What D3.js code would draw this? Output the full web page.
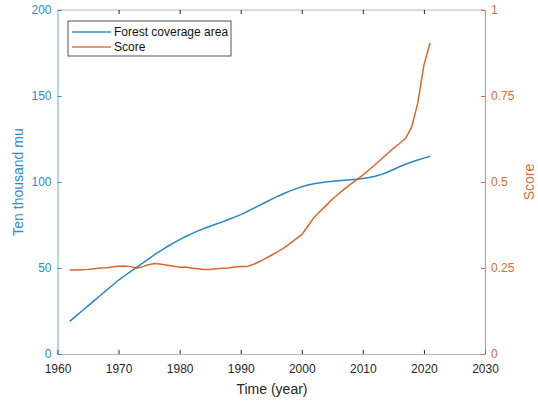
<!DOCTYPE html>
<html>
<head>
<meta charset="utf-8">
<script src="https://cdn.jsdelivr.net/npm/d3@7"></script>
<style>
body { margin: 0; background: #fff; }
text { font-family: "Liberation Sans", Arial, sans-serif; }
</style>
</head>
<body>
<div id="chart"></div>
<script>
// values
var years = d3.range(1962, 2022);
var forestArea = [19, 22, 25, 28, 31, 34, 37, 40, 43, 45.5,
    48, 50.5, 53, 55.5, 58, 60.3, 62.5, 64.6, 66.5, 68.3,
    70, 71.6, 73, 74.3, 75.6, 76.8, 78.2, 79.6, 81, 82.7,
    84.5, 86.3, 88.1, 89.9, 91.6, 93.2, 94.7, 96, 97.2, 98.2,
    99, 99.6, 100, 100.4, 100.7, 101, 101.3, 101.6, 102, 102.6,
    103.3, 104.3, 105.7, 107.3, 108.9, 110.3, 111.6, 112.8, 113.9, 115];
var score = [0.244, 0.244, 0.245, 0.246, 0.248, 0.25, 0.251, 0.253, 0.255, 0.256,
    0.254, 0.249, 0.254, 0.26, 0.263, 0.261, 0.258, 0.255, 0.252, 0.253,
    0.249, 0.248, 0.246, 0.246, 0.248, 0.249, 0.25, 0.253, 0.254, 0.254,
    0.26, 0.268, 0.277, 0.287, 0.297, 0.308, 0.32, 0.334, 0.347, 0.372,
    0.397, 0.415, 0.432, 0.45, 0.465, 0.48, 0.494, 0.507, 0.52, 0.535,
    0.55, 0.566, 0.582, 0.598, 0.612, 0.627, 0.66, 0.73, 0.84, 0.904];
var xTicks = [1960, 1970, 1980, 1990, 2000, 2010, 2020, 2030];
var leftTicks = [0, 50, 100, 150, 200];
var rightTicks = [0, 0.25, 0.5, 0.75, 1];
var seriesNames = ["Forest coverage area", "Score"];

var width = 538, height = 403;
var margin = {left: 57.5, right: 53, top: 10, bottom: 49};
var blue = "#0072BD", orange = "#D95319", grey = "#262626";
var blueTxt = "#2F8AD0", orangeTxt = "#E06A34";

var svg = d3.select("#chart").append("svg")
    .attr("width", width)
    .attr("height", height);

var x = d3.scaleLinear().domain([1960, 2030])
    .range([margin.left, width - margin.right]);
var yL = d3.scaleLinear().domain([0, 200])
    .range([height - margin.bottom, margin.top]);
var yR = d3.scaleLinear().domain([0, 1])
    .range([height - margin.bottom, margin.top]);

var bottom = height - margin.bottom;

// top box line
svg.append("line")
    .attr("x1", x(1960)).attr("x2", x(2030))
    .attr("y1", margin.top).attr("y2", margin.top)
    .attr("stroke", grey).attr("stroke-opacity", 0.35);

// x axis
var gx = svg.append("g")
    .attr("transform", "translate(0," + bottom + ")")
    .call(d3.axisBottom(x).tickValues(xTicks).tickFormat(d3.format("d"))
        .tickSizeInner(-4).tickSizeOuter(0).tickPadding(10));
gx.select(".domain").attr("stroke", grey).attr("stroke-opacity", 0.35);
gx.selectAll(".tick line").attr("stroke", grey);
gx.selectAll("text").attr("fill", grey).attr("font-size", 12);

// top ticks
svg.append("g")
    .attr("transform", "translate(0," + margin.top + ")")
    .call(d3.axisTop(x).tickValues(xTicks.slice(1, -1)).tickFormat("")
        .tickSizeInner(-4).tickSizeOuter(0))
    .call(function (g) { g.select(".domain").remove(); })
    .selectAll(".tick line").attr("stroke", grey);

// left axis
var gl = svg.append("g")
    .attr("transform", "translate(" + x(1960) + ",0)")
    .call(d3.axisLeft(yL).tickValues(leftTicks)
        .tickSizeInner(-4).tickSizeOuter(0).tickPadding(6));
gl.select(".domain").attr("stroke", blueTxt).attr("stroke-opacity", 0.7);
gl.selectAll(".tick line").attr("stroke", blueTxt);
gl.selectAll("text").attr("fill", blueTxt).attr("font-size", 12).attr("dy", "0.28em");

// right axis
var gr = svg.append("g")
    .attr("transform", "translate(" + x(2030) + ",0)")
    .call(d3.axisRight(yR).tickValues(rightTicks).tickFormat(function (d) { return String(d); })
        .tickSizeInner(-4).tickSizeOuter(0).tickPadding(6));
gr.select(".domain").attr("stroke", orangeTxt).attr("stroke-opacity", 0.8);
gr.selectAll(".tick line").attr("stroke", orangeTxt);
gr.selectAll("text").attr("fill", orangeTxt).attr("font-size", 12).attr("dy", "0.28em");

// axis titles
svg.append("text")
    .attr("x", 272).attr("y", 394)
    .attr("text-anchor", "middle").attr("font-size", 14).attr("fill", grey)
    .text("Time (year)");
svg.append("text")
    .attr("transform", "translate(23," + (margin.top + bottom) / 2 + ") rotate(-90)")
    .attr("text-anchor", "middle").attr("font-size", 14).attr("fill", blueTxt)
    .text("Ten thousand mu");
svg.append("text")
    .attr("transform", "translate(534," + (margin.top + bottom) / 2 + ") rotate(-90)")
    .attr("text-anchor", "middle").attr("font-size", 14).attr("fill", orangeTxt)
    .text("Score");

// lines
var lineL = d3.line()
    .x(function (d, i) { return x(years[i]); })
    .y(function (d) { return yL(d); });
var lineR = d3.line()
    .x(function (d, i) { return x(years[i]); })
    .y(function (d) { return yR(d); });

svg.append("path").datum(forestArea)
    .attr("d", lineL).attr("fill", "none")
    .attr("stroke", blue).attr("stroke-width", 1.5).attr("stroke-opacity", 0.85);
svg.append("path").datum(score)
    .attr("d", lineR).attr("fill", "none")
    .attr("stroke", orange).attr("stroke-width", 1.5).attr("stroke-opacity", 0.9);

// legend
var leg = svg.append("g").attr("transform", "translate(68,21)");
leg.append("rect")
    .attr("width", 163).attr("height", 35)
    .attr("fill", "#fff").attr("stroke", grey).attr("stroke-width", 0.8);
var colors = [blue, orange];
seriesNames.forEach(function (name, i) {
    var yy = 11 + i * 15;
    leg.append("line")
        .attr("x1", 4).attr("x2", 43).attr("y1", yy).attr("y2", yy)
        .attr("stroke", colors[i]).attr("stroke-width", 1.5).attr("stroke-opacity", 0.8);
    leg.append("text")
        .attr("x", 46).attr("y", yy + 4)
        .attr("font-size", 12).attr("fill", "#111")
        .text(name);
});
</script>
</body>
</html>
